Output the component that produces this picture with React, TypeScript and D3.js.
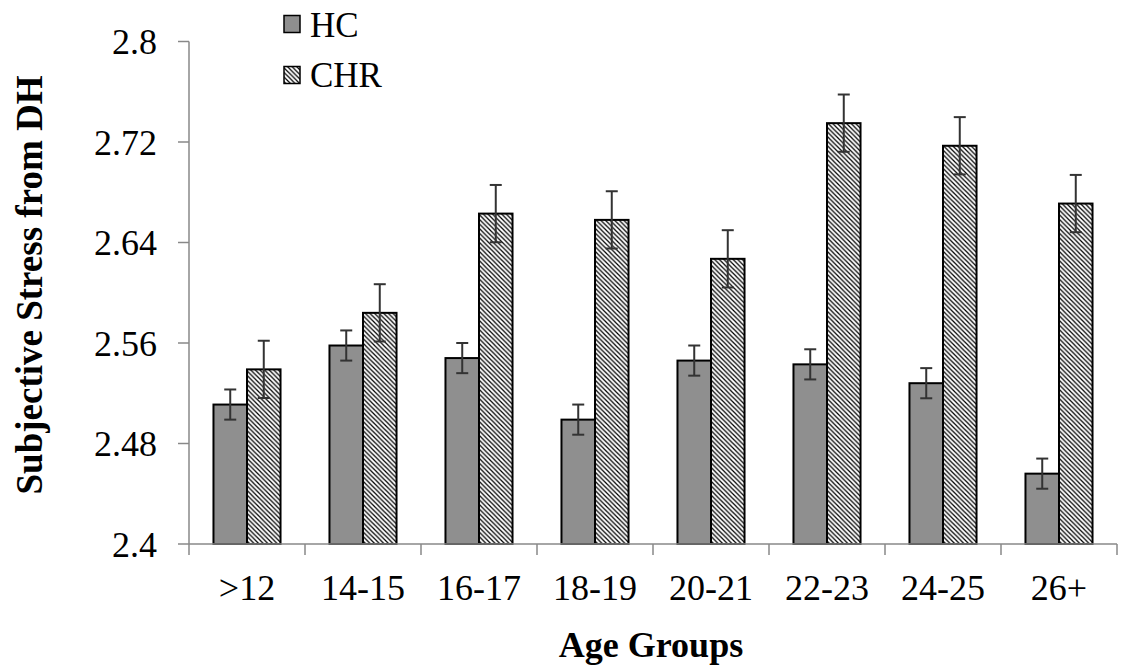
import React from "react";
import * as d3 from "d3";

const categories = [">12", "14-15", "16-17", "18-19", "20-21", "22-23", "24-25", "26+"];
const seriesNames = ["HC", "CHR"];
const hcValues = [2.511, 2.558, 2.548, 2.499, 2.546, 2.543, 2.528, 2.456];
const chrValues = [2.539, 2.584, 2.663, 2.658, 2.627, 2.735, 2.717, 2.671];
const hcErrors = [0.012, 0.012, 0.012, 0.012, 0.012, 0.012, 0.012, 0.012];
const chrErrors = [0.0228, 0.0228, 0.0228, 0.0228, 0.0228, 0.0228, 0.0228, 0.0228];
const yTicks = [2.4, 2.48, 2.56, 2.64, 2.72, 2.8];
const yTickLabels = ["2.4", "2.48", "2.56", "2.64", "2.72", "2.8"];

const W = 1121;
const H = 668;
const FONT = "Liberation Serif";

export default function App() {
  const x0 = d3.scaleBand<string>().domain(categories).range([189, 1117]).paddingInner(0).paddingOuter(0);
  const bw = x0.bandwidth();
  const groupW = bw * 0.578;
  const x1 = d3.scaleBand<string>().domain(seriesNames).range([(bw - groupW) / 2, (bw + groupW) / 2]).padding(0);
  const y = d3.scaleLinear().domain([2.4, 2.8]).range([544, 41.5]);

  const rows = categories.map((c, i) => ({
    cat: c,
    bars: [
      { name: "HC", v: hcValues[i], e: hcErrors[i] },
      { name: "CHR", v: chrValues[i], e: chrErrors[i] },
    ],
  }));

  const axisColor = "#888888";
  const base = y(2.4);
  const txt = { fontFamily: FONT };

  return (
    <svg width={W} height={H} style={{ position: "absolute", left: 0, top: 0, display: "block", background: "#fff", fontFamily: FONT }}>
      <defs>
        <pattern id="hatch" patternUnits="userSpaceOnUse" width={4.6} height={4.6}>
          <rect width={4.6} height={4.6} fill="#fff" />
          <path d="M-1,-1 L5.6,5.6 M-1,3.6 L1,5.6 M3.6,-1 L5.6,1" stroke="#000" strokeWidth={1.25} />
        </pattern>
      </defs>

      {/* y axis */}
      <line x1={189} x2={189} y1={y(2.8)} y2={base} stroke={axisColor} strokeWidth={1.5} />
      {yTicks.map((t, i) => (
        <g key={t}>
          <line x1={178} x2={189} y1={y(t)} y2={y(t)} stroke={axisColor} strokeWidth={1.5} />
          <text x={157} y={y(t)} dy="0.35em" textAnchor="end" style={txt} fontSize={36} fill="#000">
            {yTickLabels[i]}
          </text>
        </g>
      ))}

      {/* bars */}
      {rows.map((r) => (
        <g key={r.cat} transform={`translate(${x0(r.cat)},0)`}>
          {r.bars.map((b) => {
            const bx = x1(b.name)!;
            const w = x1.bandwidth();
            return (
              <rect
                key={b.name}
                x={bx}
                y={y(b.v)}
                width={w}
                height={base - y(b.v)}
                fill={b.name === "HC" ? "#8f8f8f" : "url(#hatch)"}
                stroke="#000"
                strokeWidth={2}
              />
            );
          })}
        </g>
      ))}

      {/* x axis */}
      <line x1={189} x2={1117} y1={base} y2={base} stroke={axisColor} strokeWidth={1.5} />
      {[...categories.map((c) => x0(c)!), 1117].map((tx, i) => (
        <line key={i} x1={tx} x2={tx} y1={base} y2={base + 11} stroke={axisColor} strokeWidth={1.5} />
      ))}
      {categories.map((c) => (
        <text key={c} x={x0(c)! + bw / 2} y={600} textAnchor="middle" style={txt} fontSize={36} fill="#000">
          {c}
        </text>
      ))}

      {/* error bars */}
      {rows.map((r) => (
        <g key={r.cat + "e"} transform={`translate(${x0(r.cat)},0)`}>
          {r.bars.map((b) => {
            const cx = x1(b.name)! + x1.bandwidth() / 2;
            const yt = y(b.v + b.e);
            const yb = y(b.v - b.e);
            return (
              <g key={b.name} stroke="#333" strokeWidth={2}>
                <line x1={cx} x2={cx} y1={yt} y2={yb} />
                <line x1={cx - 6} x2={cx + 6} y1={yt} y2={yt} />
                <line x1={cx - 6} x2={cx + 6} y1={yb} y2={yb} />
              </g>
            );
          })}
        </g>
      ))}

      {/* legend */}
      <rect x={284} y={15.5} width={16} height={17} fill="#8f8f8f" stroke="#000" strokeWidth={1.5} />
      <text x={310} y={36.7} style={txt} fontSize={35} fill="#000">HC</text>
      <rect x={284} y={66.5} width={16} height={17} fill="url(#hatch)" stroke="#000" strokeWidth={1.5} />
      <text x={310} y={86.7} style={txt} fontSize={35} fill="#000">CHR</text>

      {/* axis titles */}
      <text x={651} y={657} textAnchor="middle" style={txt} fontSize={36} fontWeight="bold" fill="#000">
        Age Groups
      </text>
      <text
        transform={`translate(42,${285}) rotate(-90)`}
        textAnchor="middle"
        style={txt}
        fontSize={37}
        fontWeight="bold"
        fill="#000"
      >
        Subjective Stress from DH
      </text>
    </svg>
  );
}
